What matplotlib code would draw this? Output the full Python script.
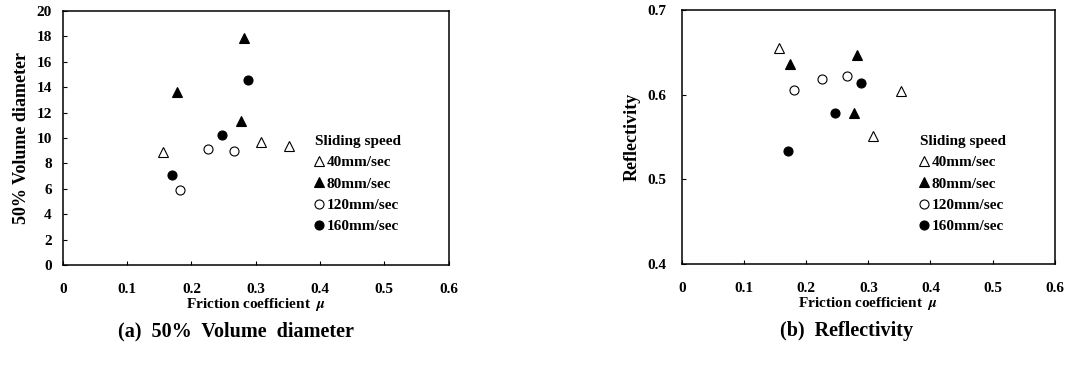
import numpy as np
import matplotlib
matplotlib.use("Agg")
import matplotlib.pyplot as plt

plt.rcParams['font.family'] = ['Liberation Serif', 'DejaVu Serif']
plt.rcParams['font.weight'] = 'bold'
plt.rcParams['mathtext.fontset'] = 'stix'

speeds = ['40mm/sec', '80mm/sec', '120mm/sec', '160mm/sec']

# (a) 50% volume diameter vs friction coefficient
mu_a_40 = [0.155, 0.308, 0.352]
d50_40 = [8.9, 9.7, 9.4]
mu_a_80 = [0.177, 0.282, 0.277]
d50_80 = [13.6, 17.85, 11.3]
mu_a_120 = [0.182, 0.225, 0.266]
d50_120 = [5.9, 9.1, 9.0]
mu_a_160 = [0.170, 0.248, 0.288]
d50_160 = [7.05, 10.2, 14.6]

# (b) reflectivity vs friction coefficient
mu_b_40 = [0.156, 0.308, 0.353]
refl_40 = [0.655, 0.551, 0.604]
mu_b_80 = [0.174, 0.282, 0.277]
refl_80 = [0.636, 0.647, 0.578]
mu_b_120 = [0.180, 0.225, 0.265]
refl_120 = [0.606, 0.619, 0.622]
mu_b_160 = [0.170, 0.247, 0.288]
refl_160 = [0.534, 0.578, 0.614]

styles = [('^', 'white'), ('^', 'black'), ('o', 'white'), ('o', 'black')]
fs = 11

fig = plt.figure(figsize=(10.8, 3.65), dpi=100)
axa = fig.add_axes([0.0583, 0.274, 0.357, 0.696])
axb = fig.add_axes([0.6315, 0.2767, 0.345, 0.696])


def draw(ax, xs, ys, ylim, yticks, ylabel, ytickfmt, leg_anchor, ypad):
    for (m, fc), x, y, lab in zip(styles, xs, ys, speeds):
        ax.plot(x, y, linestyle='none', marker=m, markersize=6.5,
                markerfacecolor=fc, markeredgecolor='black',
                markeredgewidth=0.8, label=lab)
    ax.set_xlim(0, 0.6)
    ax.set_ylim(*ylim)
    ax.set_xticks(np.arange(0, 0.61, 0.1))
    ax.set_xticklabels(['0', '0.1', '0.2', '0.3', '0.4', '0.5', '0.6'])
    ax.set_yticks(yticks)
    ax.set_yticklabels([ytickfmt(v) for v in yticks])
    ax.tick_params(direction='in', length=3, width=0.8, labelsize=fs)
    ax.tick_params(axis='x', pad=13)
    ax.tick_params(axis='y', pad=ypad)
    for s in ax.spines.values():
        s.set_linewidth(1.1)
    ax.set_xlabel(r'Friction coefficient  $\mu$', fontsize=fs,
                  fontweight='bold', labelpad=0)
    ax.set_ylabel(ylabel, fontsize=13, fontweight='bold', labelpad=5)
    leg = ax.legend(title='Sliding speed', loc='upper left',
                    bbox_to_anchor=leg_anchor, frameon=False, fontsize=fs,
                    title_fontsize=fs, handlelength=0.5, handletextpad=0.3,
                    labelspacing=0.5, borderaxespad=0, borderpad=0)
    leg._legend_box.align = 'left'
    leg.get_title().set_fontweight('bold')
    for t in leg.get_texts():
        t.set_fontweight('bold')


draw(axa, [mu_a_40, mu_a_80, mu_a_120, mu_a_160],
     [d50_40, d50_80, d50_120, d50_160], (0, 20), np.arange(0, 21, 2),
     '50% Volume diameter', lambda v: '%d' % v, (0.653, 0.512), 8)

draw(axb, [mu_b_40, mu_b_80, mu_b_120, mu_b_160],
     [refl_40, refl_80, refl_120, refl_160], (0.4, 0.7),
     [0.4, 0.5, 0.6, 0.7], 'Reflectivity', lambda v: '%.1f' % v,
     (0.638, 0.508), 11)

fig.text(236 / 1080, 1 - 331 / 365, '(a)  50%  Volume  diameter',
         ha='center', va='center', fontsize=14.5, fontweight='bold')
fig.text(847 / 1080, 1 - 331 / 365, '(b)  Reflectivity',
         ha='center', va='center', fontsize=14.5, fontweight='bold')

fig.savefig('out.png', dpi=100)
